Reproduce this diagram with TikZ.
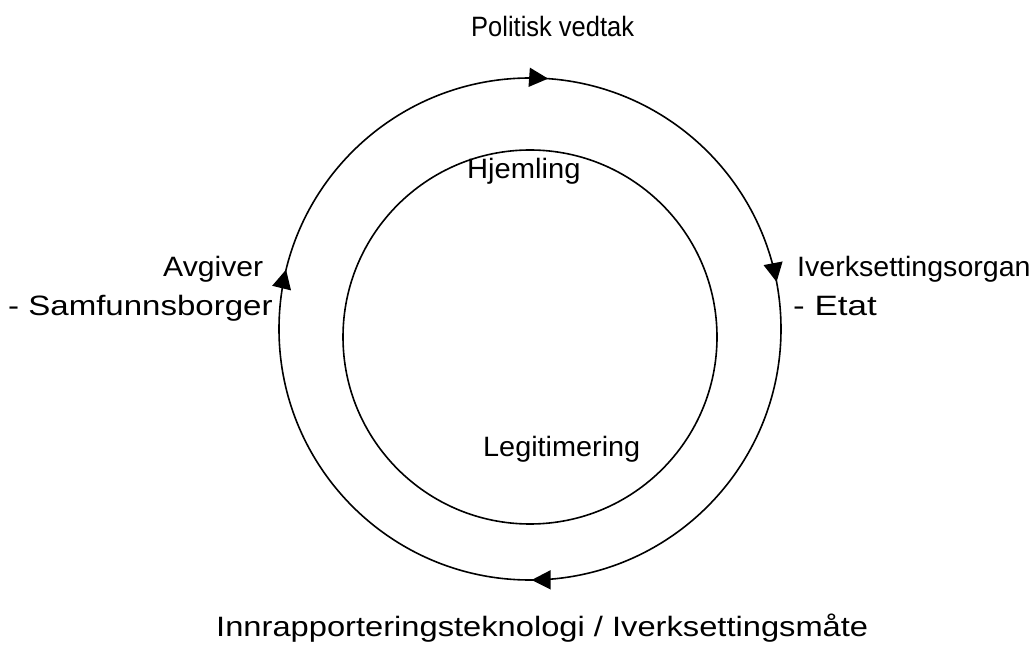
\documentclass[tikz,border=0pt]{standalone}
\usepackage{graphicx}
\usepackage{fontspec}
\setmainfont{Liberation Sans}
\usetikzlibrary{arrows.meta,decorations.markings,calc}
\begin{document}
\begin{tikzpicture}[x=1pt,y=1pt,
  ring/.style={line width=1.6pt},
  lbl/.style={anchor=base west,inner sep=0pt,font=\fontsize{28}{32}\selectfont},
  ctip/.tip={Triangle[length=19pt,width=19pt]}]
\useasboundingbox (0,0) rectangle (1034,654);
\coordinate (oc) at (530,325);
\coordinate (ic) at (530,317);
% outer circle, clockwise, with arrowheads
\draw[ring,postaction={decorate},decoration={markings,
  mark=at position 0.0115 with {\arrow{ctip}},
  mark=at position 0.220 with {\arrow{ctip}},
  mark=at position 0.499 with {\arrow{ctip}},
  mark=at position 0.788 with {\arrow{ctip}}}]
  ($(oc)+(0,251)$) arc[start angle=90,end angle=-270,radius=251];
% inner circle
\draw[ring] (ic) circle[radius=187];
\node[lbl] (pv) at (471,617) {\scalebox{0.91}[1]{Politisk vedtak}};
\node[lbl] (hj) at (467,475) {\scalebox{1.04}[1]{Hjemling}};
\node[lbl] (av) at (163,377) {\scalebox{1.076}[1]{Avgiver}};
\node[lbl] (sb) at (8,338) {\scalebox{1.18}[1]{- Samfunnsborger}};
\node[lbl] (io) at (797,377) {\scalebox{1.02}[1]{Iverksettingsorgan}};
\node[lbl] (et) at (793,338) {\scalebox{1.25}[1]{- Etat}};
\node[lbl] (lg) at (483,197) {\scalebox{1.03}[1]{Legitimering}};
\node[lbl] (ir) at (216,18) {\scalebox{1.167}[1]{Innrapporteringsteknologi / Iverksettingsmåte}};
\end{tikzpicture}
\end{document}
